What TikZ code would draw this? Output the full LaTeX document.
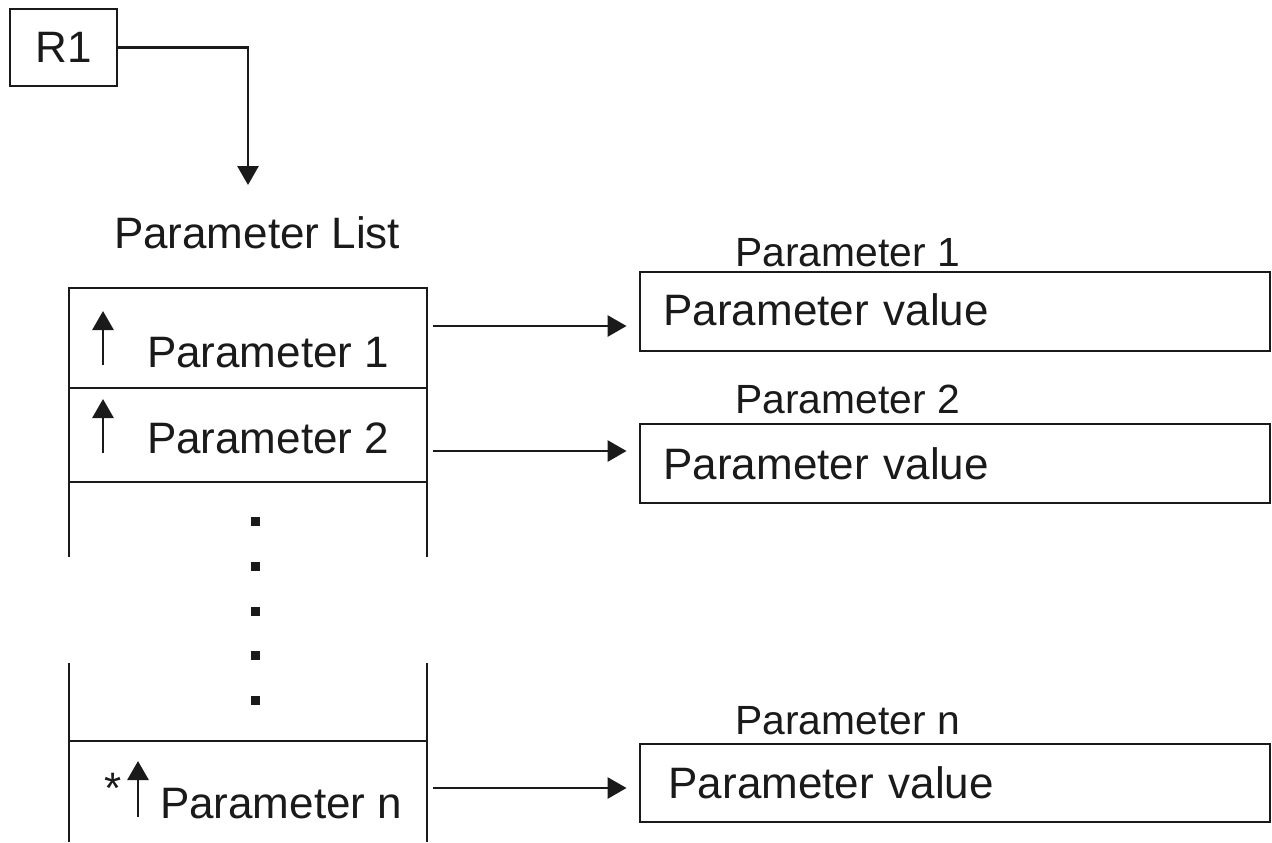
\documentclass[tikz,border=0pt]{standalone}
\usepackage{fontspec,xcolor,tikz}
\setmainfont{Liberation Sans}
\usetikzlibrary{arrows.meta}
\definecolor{ink}{HTML}{1A1A1A}
\newcommand{\cellfont}{\fontsize{22}{26}\selectfont}
\newcommand{\headfont}{\fontsize{20.4}{24}\selectfont}

\begin{document}
\begin{tikzpicture}[x=0.5pt,y=-0.5pt,
  link/.style={ink,line width=1.45pt,-{Triangle[length=9.5pt,width=10.5pt]}},
  rule/.style={ink,line width=1.45pt},
  tag/.style={inner sep=0,text=ink,font=\cellfont,anchor=base west},
  valbox/.style={draw=ink,line width=1.45pt,minimum width=315pt,minimum height=39.5pt,
    inner xsep=11.75pt,text width=291.5pt,align=left,font=\cellfont,text=ink}]
\useasboundingbox (0,0) rectangle (1272,842);
% register pointing at the list
\node[draw=ink,line width=1.45pt,minimum width=53.5pt,minimum height=38.5pt,inner sep=0,font=\cellfont,text=ink] (r1) at (63.5,47.5) {R1};
\coordinate (lsttop) at (248,185);
\draw[link] (r1.east) -| (lsttop);
\node[tag] (lsthead) at (113.6,248) {Parameter List};
% list outline, broken in the middle
\draw[rule] (69,842) -- (69,663) (69,557) -- (69,288) -- (427,288) -- (427,557) (427,663) -- (427,842);
\draw[rule] (69,388) -- (427,388) (69,482) -- (427,482) (69,741) -- (427,741);
\foreach \y in {521,566,611,655,700}
  \fill[ink] (250.5,\y-4.5) rectangle +(9,9);
% list entries
\node[tag] (p1) at (146.6,367) {Parameter 1};
\node[tag] (p2) at (146.6,453) {Parameter 2};
\node[tag] (pn) at (159.6,818) {Parameter n};
\node[inner sep=0,text=ink,font=\cellfont,anchor=base] (star) at (113,803) {*};
\draw[link] (103,365) -- (103,311);
\draw[link] (103,453) -- (103,399);
\draw[link] (138,817) -- (138,761);
% parameter values
\node[tag,font=\headfont] (l1) at (735,266) {Parameter 1};
\node[valbox,text depth=2pt] (v1) at (955,311.5) {Parameter value};
\node[tag,font=\headfont] (l2) at (735,413) {Parameter 2};
\node[valbox] (v2) at (955,463.5) {Parameter value};
\node[tag,font=\headfont] (ln) at (735,734) {Parameter n};
\node[valbox,minimum height=39pt,inner xsep=14.3pt,text width=286.4pt] (vn) at (955,783) {Parameter value};
\coordinate (o1) at (433,326);
\coordinate (o2) at (433,451);
\coordinate (on) at (433,788);
\draw[link,shorten >=6pt] (o1) -- (o1 -| v1.west);
\draw[link,shorten >=6pt] (o2) -- (o2 -| v2.west);
\draw[link,shorten >=6pt] (on) -- (on -| vn.west);
\end{tikzpicture}
\end{document}
